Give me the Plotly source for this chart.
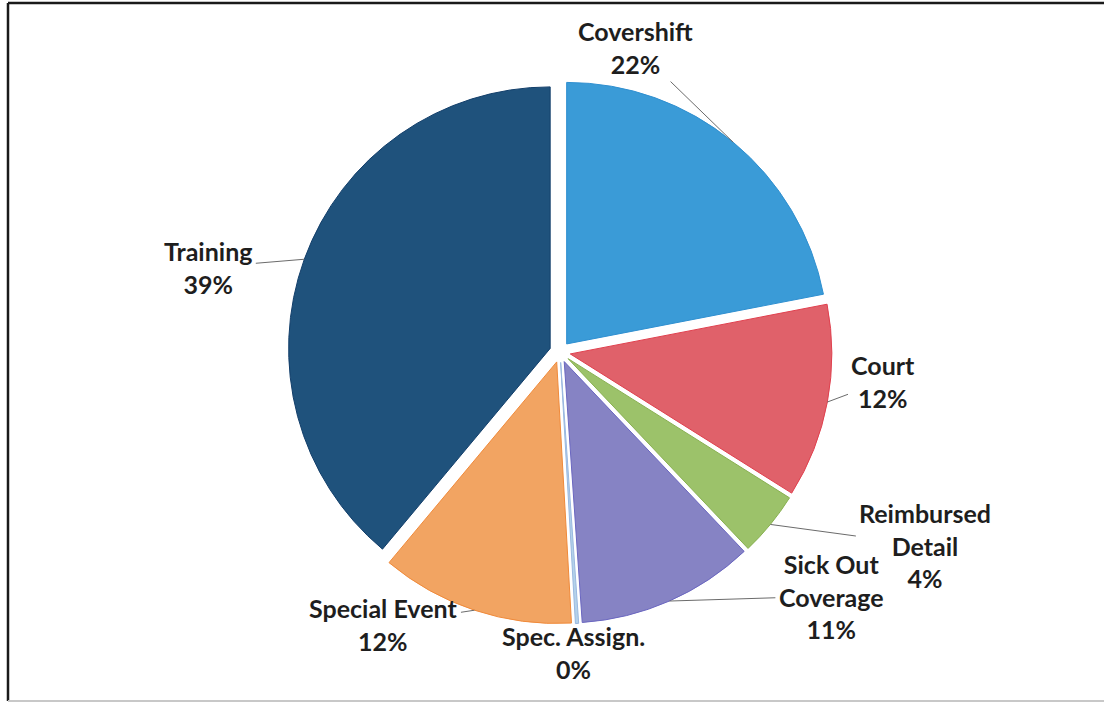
import math
import plotly.graph_objects as go

# ---- data ----
labels = ["Covershift", "Court", "Reimbursed<br>Detail", "Sick Out<br>Coverage",
          "Spec. Assign.", "Special Event", "Training"]
values = [22, 12, 4, 11, 0.2, 12, 39]
pct_text = ["22%", "12%", "4%", "11%", "0%", "12%", "39%"]

# ---- styles ----
colors = ["#3a9bd7", "#e0616a", "#9cc26a", "#8683c4", "#b4d2ea", "#f2a462", "#1f527c"]
edge = ["#2f8fd0", "#e0404e", "#88b050", "#6a66c0", "#9ab8e0", "#f08a3a", "#123e6a"]
# label offsets from the slice edge (pixels)
offs = [(-98, -95), (56, -21), (155, 21), (162, -5), (-4, 29), (-91, 14), (-96, 8)]

W, H = 1104, 704
ML, MR, MT, MB = 288, 272, 80, 80
PW, PH = W - ML - MR, H - MT - MB
PULL = 0.04

fig = go.Figure(go.Pie(
    labels=[l.replace("<br>", " ") for l in labels],
    values=values,
    sort=False,
    direction="clockwise",
    rotation=0,
    pull=[PULL] * len(values),
    marker=dict(colors=colors, line=dict(color=edge, width=1)),
    textinfo="none",
    hoverinfo="label+percent",
    showlegend=False,
))

# geometry of the pie (pixels), following plotly's own sizing
cx, cy = ML + PW / 2, MT + PH / 2
R = min(PW, PH) / (2 + 2 * PULL)
Rout = R * (1 + PULL)

def to_paper(px, py):
    return (px - ML) / PW, (H - MB - py) / PH

total = sum(values)
cum = 0.0
annotations = []
for lab, v, pt, (ox, oy) in zip(labels, values, pct_text, offs):
    mid = (cum + v / 2) / total * 2 * math.pi
    cum += v
    px = cx + Rout * math.sin(mid)
    py = cy - Rout * math.cos(mid)
    x, y = to_paper(px, py)
    annotations.append(dict(
        x=x, y=y, xref="paper", yref="paper",
        ax=ox, ay=oy, axref="pixel", ayref="pixel",
        text=f"<b>{lab}</b><br><b>{pt}</b>",
        showarrow=True, arrowhead=0, arrowwidth=1, arrowcolor="#6b6b6b",
        standoff=0, startstandoff=2,
        font=dict(family="Lato", size=25, color="#1e1e1e"),
        align="center",
    ))

# frame
def fx(px):
    return (px - ML) / PW

def fy(py):
    return (H - MB - py) / PH

shapes = [
    dict(type="line", xref="paper", yref="paper", x0=fx(8), x1=fx(1104), y0=fy(3), y1=fy(3),
         line=dict(color="#1a1a1a", width=2.5)),
    dict(type="line", xref="paper", yref="paper", x0=fx(8), x1=fx(8), y0=fy(3), y1=fy(701),
         line=dict(color="#1a1a1a", width=2.5)),
    dict(type="line", xref="paper", yref="paper", x0=fx(8), x1=fx(1104), y0=fy(701), y1=fy(701),
         line=dict(color="#c8c8c8", width=2)),
]

fig.update_layout(
    width=W, height=H,
    margin=dict(l=ML, r=MR, t=MT, b=MB),
    paper_bgcolor="white", plot_bgcolor="white",
    annotations=annotations,
    shapes=shapes,
)

fig.write_html("out.html",
               config={"displayModeBar": False},
               post_script="document.body.style.margin='0';document.body.style.overflow='hidden';")
